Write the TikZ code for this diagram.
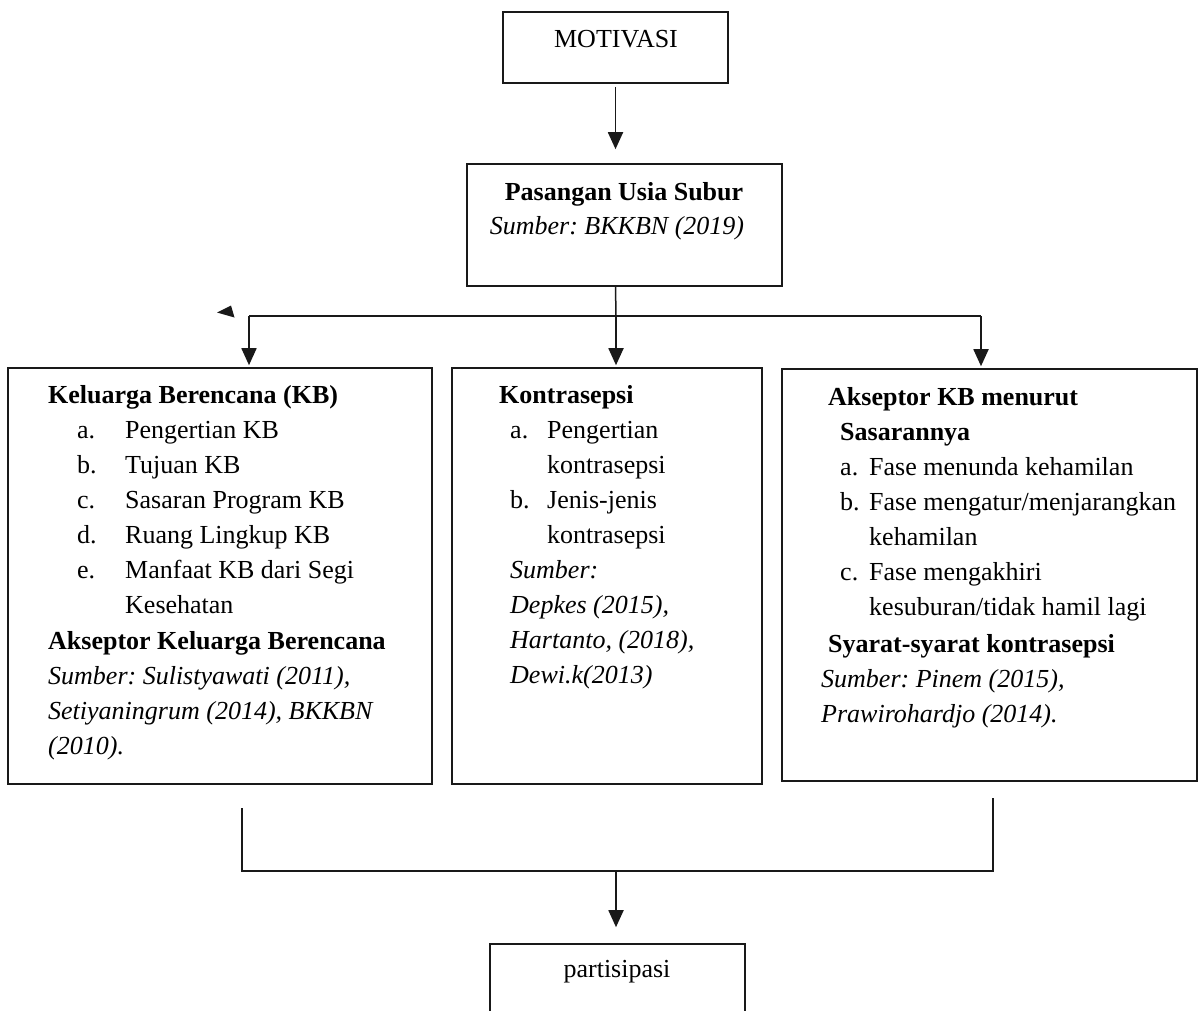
\documentclass[tikz,border=0pt]{standalone}
\usepackage{fontspec}
\setmainfont{Liberation Serif}
\usetikzlibrary{arrows.meta,calc}
\frenchspacing
\newcommand{\fs}{\fontsize{26}{35}\selectfont}
\tikzset{
  box/.style={draw=black!90, line width=1.6pt, inner sep=0pt, fill=none},
  txt/.style={anchor=base west, inner sep=0pt, font=\fs},
  ctxt/.style={anchor=base, inner sep=0pt, font=\fs},
  link/.style={draw=black!90, line width=1.5pt},
  arr/.style={link, line width=1.8pt, -{Triangle[width=15pt,length=17pt]}},
}
\begin{document}
\begin{tikzpicture}[x=1pt,y=-1pt]
\useasboundingbox (0,0) rectangle (1199,1010);

% boxes
\node[box, minimum width=225pt, minimum height=71pt] (motiv) at (615.5,47.5) {};
\node[box, minimum width=315pt, minimum height=122pt] (pus) at (624.5,225) {};
\node[box, minimum width=424pt, minimum height=416pt] (kb) at (220,576) {};
\node[box, minimum width=310pt, minimum height=416pt] (kon) at (607,576) {};
\node[box, minimum width=415pt, minimum height=412pt] (aks) at (989.5,575) {};
\node[box, minimum width=255pt, minimum height=90pt] (par) at (617.5,989) {};

% top texts
\node[ctxt] (tmotiv) at (616,47) {MOTIVASI};
\node[ctxt] (tpus1) at (624,200) {\bfseries Pasangan Usia Subur};
\node[ctxt] (tpus2) at (617,234) {\itshape Sumber: BKKBN (2019)};
\node[ctxt] (tpar) at (617,977) {partisipasi};

% left box
\node[txt] (kb0) at (48,403) {\bfseries Keluarga Berencana (KB)};
\node[txt] (kba) at (77,438) {a.};  \node[txt] (kba2) at (125,438) {Pengertian KB};
\node[txt] (kbb) at (77,473) {b.};  \node[txt] (kbb2) at (125,473) {Tujuan KB};
\node[txt] (kbc) at (77,508) {c.};  \node[txt] (kbc2) at (125,508) {Sasaran Program KB};
\node[txt] (kbd) at (77,543) {d.};  \node[txt] (kbd2) at (125,543) {Ruang Lingkup KB};
\node[txt] (kbe) at (77,578) {e.};  \node[txt] (kbe2) at (125,578) {Manfaat KB dari Segi};
\node[txt] (kbe3) at (125,613) {Kesehatan};
\node[txt] (kb1) at (48,649) {\bfseries Akseptor Keluarga Berencana};
\node[txt] (kb2) at (48,684) {\itshape Sumber: Sulistyawati (2011),};
\node[txt] (kb3) at (48,719) {\itshape Setiyaningrum (2014), BKKBN};
\node[txt] (kb4) at (48,754) {\itshape (2010).};

% middle box
\node[txt] (kon0) at (499,403) {\bfseries Kontrasepsi};
\node[txt] (kona) at (510,438) {a.}; \node[txt] (kona2) at (547,438) {Pengertian};
\node[txt] (kona3) at (547,473) {kontrasepsi};
\node[txt] (konb) at (510,508) {b.}; \node[txt] (konb2) at (547,508) {Jenis-jenis};
\node[txt] (konb3) at (547,543) {kontrasepsi};
\node[txt] (kon1) at (510,578) {\itshape Sumber:};
\node[txt] (kon2) at (510,613) {\itshape Depkes (2015),};
\node[txt] (kon3) at (510,648) {\itshape Hartanto, (2018),};
\node[txt] (kon4) at (510,683) {\itshape Dewi.k(2013)};

% right box
\node[txt] (aks0) at (828,405) {\bfseries Akseptor KB menurut};
\node[txt] (aks1) at (840,440) {\bfseries Sasarannya};
\node[txt] (aksa) at (840,475) {a.}; \node[txt] (aksa2) at (869,475) {Fase menunda kehamilan};
\node[txt] (aksb) at (840,510) {b.}; \node[txt] (aksb2) at (869,510) {Fase mengatur/menjarangkan};
\node[txt] (aksb3) at (869,545) {kehamilan};
\node[txt] (aksc) at (840,580) {c.}; \node[txt] (aksc2) at (869,580) {Fase mengakhiri};
\node[txt] (aksc3) at (869,615) {kesuburan/tidak hamil lagi};
\node[txt] (aks2) at (828,652) {\bfseries Syarat-syarat kontrasepsi};
\node[txt] (aks3) at (821,687) {\itshape Sumber: Pinem (2015),};
\node[txt] (aks4) at (821,722) {\itshape Prawirohardjo (2014).};

% MOTIVASI -> Pasangan Usia Subur
\draw[arr, shorten <=3pt, shorten >=14pt] (motiv.south) -- (motiv.south |- pus.north);

% branching to the three middle boxes
\coordinate (j1) at (616,316);
\coordinate (bl) at (249,316);
\coordinate (br) at (981,316);
\draw[link] (motiv.south |- pus.south) -- (j1);
\draw[link] (bl) -- (br);
\draw[arr, shorten >=2pt] (bl) -- (bl |- kb.north);
\draw[arr, shorten >=2pt] (j1) -- (j1 |- kon.north);
\draw[arr, shorten >=2pt] (br) -- (br |- aks.north);

% loose arrowhead
\fill[black!90] (217,312.5) -- (231,305.5) -- (234.5,317.5) -- cycle;

% merging bracket below to partisipasi
\coordinate (ml) at (242,808);
\coordinate (mr) at (993,798);
\coordinate (j2) at (616,871);
\draw[link] (ml) -- (ml |- j2) -- (mr |- j2) -- (mr);
\draw[arr, shorten >=16pt] (j2) -- (j2 |- par.north);
\end{tikzpicture}
\end{document}
